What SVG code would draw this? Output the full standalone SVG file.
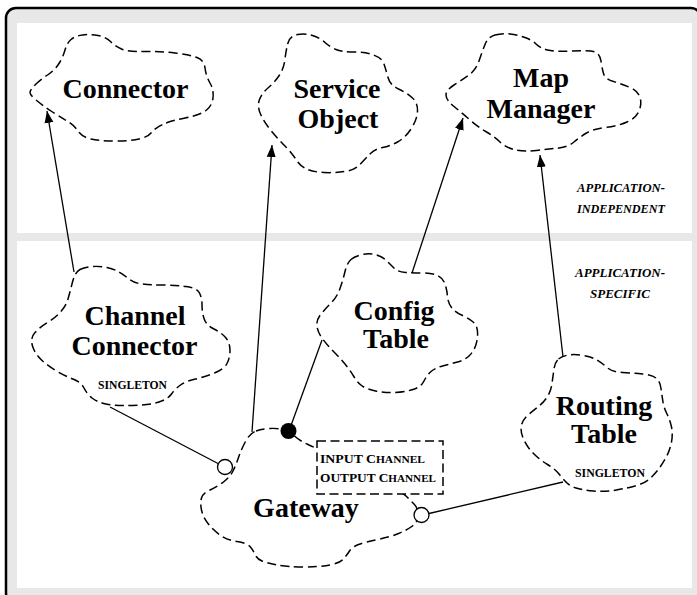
<svg xmlns="http://www.w3.org/2000/svg" width="697" height="595" viewBox="0 0 697 595">
<defs>
<style>
.cloud{fill:#fff;stroke:#000;stroke-width:1.5;stroke-dasharray:9 4.5}
.name{font-family:"Liberation Serif","Times New Roman",serif;font-weight:bold;font-size:28px;text-anchor:middle;fill:#000}
.small{font-family:"Liberation Serif","Times New Roman",serif;font-weight:bold;font-size:12px;fill:#000}
.region{font-family:"Liberation Serif","Times New Roman",serif;font-weight:bold;font-style:italic;font-size:13px;fill:#000}
.conn{stroke:#000;stroke-width:1.3;fill:none}
.arrow{marker-end:url(#ah)}
</style>
<marker id="ah" viewBox="0 0 12 10" refX="12" refY="5" markerWidth="12" markerHeight="10" markerUnits="userSpaceOnUse" orient="auto">
<path d="M0,0.5 L12,5 L0,9.5 z" fill="#000"/>
</marker>
</defs>
<g id="frame">
<rect x="6" y="8" width="695" height="595" rx="10" fill="#e8e8e8" stroke="#000" stroke-width="2.5"/>
<rect x="17" y="23" width="675" height="210" fill="#fff"/>
<rect x="17" y="241" width="675" height="347" fill="#fff"/>
<text class="region" x="621" y="192" text-anchor="middle" textLength="88" lengthAdjust="spacingAndGlyphs">APPLICATION-</text>
<text class="region" x="621" y="213" text-anchor="middle" textLength="88" lengthAdjust="spacingAndGlyphs">INDEPENDENT</text>
<text class="region" x="620" y="277" text-anchor="middle" textLength="90" lengthAdjust="spacingAndGlyphs">APPLICATION-</text>
<text class="region" x="620" y="298" text-anchor="middle" textLength="60" lengthAdjust="spacingAndGlyphs">SPECIFIC</text>
</g>
<g id="connector">
<path class="cloud" d="M 35,85 Q 40,80 47.5,75 Q 55,70 59,63.5 Q 63,57 65,50 Q 67,43 71,39.5 Q 75,36 82.5,35 Q 90,34 98,35.5 Q 106,37 110.5,41.5 Q 115,46 121.5,49 Q 128,52 144,51.5 Q 160,51 175,53 Q 190,55 197,57.5 Q 204,60 205,68 Q 206,76 210,83 Q 214,90 213,98 Q 212,106 206,110.5 Q 200,115 185,118 Q 170,121 162.5,124.5 Q 155,128 151.5,132.5 Q 148,137 139,139 Q 130,141 115,141 Q 100,141 91,139 Q 82,137 78,131 Q 74,125 67,121 Q 60,117 51,111 Q 42,105 36,100 Q 30,95 30,92.5 Q 30,90 35,85 Z"/>
<text class="name" x="125.5" y="98">Connector</text>
</g>
<g id="service-object">
<path class="cloud" d="M 297.5,34.5 Q 305,33 312.5,35.5 Q 320,38 325,42.5 Q 330,47 336,49.5 Q 342,52 353.5,52 Q 365,52 373.5,55 Q 382,58 384,64 Q 386,70 388,77.5 Q 390,85 398.5,89 Q 407,93 412.5,98 Q 418,103 417.5,111.5 Q 417,120 411,129 Q 405,138 397.5,142 Q 390,146 382.5,147.5 Q 375,149 370.5,153.5 Q 366,158 360.5,164 Q 355,170 345,171.5 Q 335,173 324,172.5 Q 313,172 306.5,169 Q 300,166 296,159.5 Q 292,153 285,146 Q 278,139 271,130.5 Q 264,122 260.5,114 Q 257,106 259.5,99.5 Q 262,93 268.5,87.5 Q 275,82 279.5,75 Q 284,68 285,59 Q 286,50 288,43 Q 290,36 297.5,34.5 Z"/>
<text class="name" x="337" y="98">Service</text>
<text class="name" x="338" y="128">Object</text>
</g>
<g id="map-manager">
<path class="cloud" d="M 495,35 Q 502,33 510,34 Q 518,35 525,37.5 Q 532,40 536,44 Q 540,48 547.5,50 Q 555,52 572.5,51 Q 590,50 595,52 Q 600,54 601,61 Q 602,68 603.5,73.5 Q 605,79 613.5,81.5 Q 622,84 630,87.5 Q 638,91 640,97.5 Q 642,104 639,111 Q 636,118 627,122 Q 618,126 605.5,127.5 Q 593,129 586.5,133 Q 580,137 574,142 Q 568,147 559,148 Q 550,149 536.5,150.5 Q 523,152 514,149.5 Q 505,147 500,142 Q 495,137 486.5,132 Q 478,127 470,120 Q 462,113 454,106.5 Q 446,100 446,95 Q 446,90 454,85 Q 462,80 469,75 Q 476,70 479,61 Q 482,52 485,44.5 Q 488,37 495,35 Z"/>
<text class="name" x="541" y="87">Map</text>
<text class="name" x="541" y="118">Manager</text>
</g>
<g id="channel-connector">
<path class="cloud" d="M 80,269.5 Q 85,267 92.5,266.5 Q 100,266 107,267.5 Q 114,269 119,272 Q 124,275 129,279 Q 134,283 142,284 Q 150,285 162.5,285 Q 175,285 186,286.5 Q 197,288 199.5,293 Q 202,298 202,305 Q 202,312 204,318.5 Q 206,325 214,329 Q 222,333 226,338 Q 230,343 230,350.5 Q 230,358 227,363.5 Q 224,369 214.5,373 Q 205,377 195.5,379 Q 186,381 180.5,385 Q 175,389 171.5,394 Q 168,399 159,402 Q 150,405 132.5,405.5 Q 115,406 106,404 Q 97,402 92,398 Q 87,394 84,388 Q 81,382 73,379 Q 65,376 56.5,371 Q 48,366 41.5,360 Q 35,354 32.5,346 Q 30,338 35,332.5 Q 40,327 47.5,322.5 Q 55,318 60.5,312 Q 66,306 68,299 Q 70,292 72.5,282 Q 75,272 80,269.5 Z"/>
<text class="name" x="135" y="325">Channel</text>
<text class="name" x="134.5" y="355">Connector</text>
<text class="small" x="132.5" y="389" text-anchor="middle" textLength="69" lengthAdjust="spacingAndGlyphs">SINGLETON</text>
</g>
<g id="config-table">
<path class="cloud" d="M 351,259.5 Q 355,256 362.5,254.5 Q 370,253 376.5,255 Q 383,257 387,261 Q 391,265 394.5,268.5 Q 398,272 405.5,272.5 Q 413,273 422.5,273 Q 432,273 437.5,275.5 Q 443,278 445,284 Q 447,290 447.5,296.5 Q 448,303 451.5,307.5 Q 455,312 461.5,315 Q 468,318 472.5,321.5 Q 477,325 477.5,331.5 Q 478,338 476,344.5 Q 474,351 469.5,355.5 Q 465,360 457.5,362 Q 450,364 442.5,366 Q 435,368 431,371.5 Q 427,375 424,381 Q 421,387 413,389.5 Q 405,392 395,392.5 Q 385,393 375.5,391 Q 366,389 361.5,385.5 Q 357,382 353.5,376 Q 350,370 345,364 Q 340,358 334,352 Q 328,346 323,339.5 Q 318,333 317,326.5 Q 316,320 321,314 Q 326,308 331.5,302.5 Q 337,297 340,288.5 Q 343,280 345,271.5 Q 347,263 351,259.5 Z"/>
<text class="name" x="394" y="320">Config</text>
<text class="name" x="396" y="348">Table</text>
</g>
<g id="routing-table">
<path class="cloud" d="M 558.5,359 Q 562,356 568.5,355 Q 575,354 583.5,355.5 Q 592,357 597,360 Q 602,363 607,367.5 Q 612,372 622.5,372.5 Q 633,373 642.5,374 Q 652,375 656,378 Q 660,381 661,388.5 Q 662,396 663,402 Q 664,408 667,414 Q 670,420 671.5,427 Q 673,434 671.5,442 Q 670,450 666.5,456.5 Q 663,463 659,468.5 Q 655,474 650,478.5 Q 645,483 636.5,485.5 Q 628,488 616.5,490 Q 605,492 593.5,491 Q 582,490 576,488 Q 570,486 566.5,482.5 Q 563,479 559,474 Q 555,469 547.5,464.5 Q 540,460 533.5,453.5 Q 527,447 523.5,439 Q 520,431 521.5,425 Q 523,419 528.5,414.5 Q 534,410 539,406 Q 544,402 547.5,396.5 Q 551,391 552,383.5 Q 553,376 554,369 Q 555,362 558.5,359 Z"/>
<text class="name" x="604" y="415">Routing</text>
<text class="name" x="604" y="443">Table</text>
<text class="small" x="610" y="477" text-anchor="middle" textLength="70" lengthAdjust="spacingAndGlyphs">SINGLETON</text>
</g>
<g id="gateway">
<path class="cloud" d="M 256,431 Q 262,429 269.5,428.5 Q 277,428 283,429.5 Q 289,431 294.5,436 Q 300,441 308,444.5 Q 316,448 338,459 Q 360,470 381,481 Q 402,492 406,496 Q 410,500 414,504 Q 418,508 418,515 Q 418,522 412.5,526 Q 407,530 398.5,533.5 Q 390,537 377.5,539.5 Q 365,542 358.5,544.5 Q 352,547 349.5,551 Q 347,555 343.5,559 Q 340,563 330,565 Q 320,567 303.5,567 Q 287,567 277,565 Q 267,563 262,561 Q 257,559 255,554.5 Q 253,550 250,546.5 Q 247,543 237,541.5 Q 227,540 220,535 Q 213,530 208,523.5 Q 203,517 201.5,510 Q 200,503 201.5,498 Q 203,493 210,490 Q 217,487 223.5,482 Q 230,477 233,471 Q 236,465 238.5,457.5 Q 241,450 245.5,441.5 Q 250,433 256,431 Z"/>
<rect x="317" y="441" width="126" height="53" fill="#fff" stroke="#000" stroke-width="1.5" stroke-dasharray="9 4.5"/>
<text class="small" x="320" y="463" textLength="105" lengthAdjust="spacingAndGlyphs">INPUT C<tspan font-size="10">HANNEL</tspan></text>
<text class="small" x="320" y="482" textLength="116" lengthAdjust="spacingAndGlyphs">OUTPUT C<tspan font-size="10">HANNEL</tspan></text>
<text class="name" x="306" y="517">Gateway</text>
</g>
<g id="connectors">
<line class="conn arrow" x1="74" y1="272" x2="47" y2="111"/>
<line class="conn arrow" x1="252" y1="432" x2="272" y2="145"/>
<line class="conn arrow" x1="412" y1="273" x2="463" y2="118"/>
<line class="conn arrow" x1="563" y1="357" x2="540" y2="155"/>
<line class="conn" x1="110" y1="407" x2="218" y2="463.5"/>
<line class="conn" x1="322" y1="340" x2="289" y2="431"/>
<line class="conn" x1="563" y1="482" x2="429" y2="513.5"/>
<circle cx="225" cy="467" r="7.5" fill="#fff" stroke="#000" stroke-width="1.3"/>
<circle cx="288.5" cy="431" r="8" fill="#000"/>
<circle cx="421.5" cy="515" r="7.5" fill="#fff" stroke="#000" stroke-width="1.3"/>
</g>
</svg>
